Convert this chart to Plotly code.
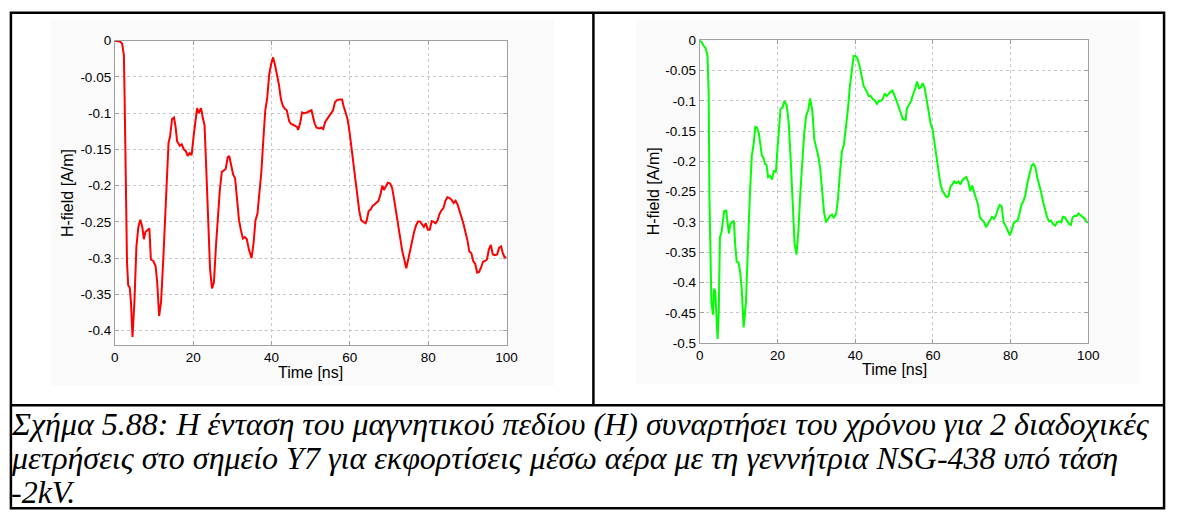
import plotly.graph_objects as go

# ---------------- data ----------------
t_red = [0, 1.3, 1.85, 2.3, 2.5, 2.8, 3.1, 3.4, 3.8, 4.1, 4.5, 5.0, 5.5, 6.0, 6.5, 7.0, 7.4, 7.8, 8.3, 8.8,
         9.2, 9.8, 10.4, 10.8, 11.3, 11.8, 12.4, 12.9, 13.3, 13.7, 14.1, 14.6, 15.1, 15.5, 15.9, 16.6, 17.1,
         17.6, 18.1, 18.6, 19.1, 19.6, 20.1, 20.6, 21.0, 21.4, 22.0, 22.4, 22.9, 23.3, 23.8, 24.3, 24.8,
         25.3, 25.8, 26.3, 26.8, 27.3, 27.8, 28.3, 28.8, 29.2, 29.7, 30.2, 30.7, 31.2, 31.7, 32.2, 32.7,
         33.2, 33.7, 34.2, 34.9, 35.4, 35.9, 36.4, 36.9, 37.4, 37.9, 38.4, 38.9, 39.4, 39.9, 40.4, 40.9,
         41.4, 41.9, 42.4, 42.9, 43.4, 43.9, 44.5, 45.0, 45.5, 46.0, 46.5, 46.8, 47.3, 47.8, 48.3, 49.0,
         49.7, 50.2, 50.5, 51.0, 51.5, 52.2, 52.7, 53.2, 53.7, 54.2, 54.7, 55.2, 55.7, 56.2, 56.7, 57.3,
         58.0, 58.4, 58.9, 59.4, 59.9, 60.4, 60.9, 61.4, 61.9, 62.4, 62.9, 63.5, 64.0, 64.3, 64.8, 65.3,
         65.8, 66.3, 66.8, 67.3, 67.8, 68.3, 68.7, 69.2, 69.7, 70.3, 70.8, 71.3, 71.8, 72.3, 72.9, 73.4,
         73.9, 74.4, 74.9, 75.4, 75.9, 76.4, 76.9, 77.4, 77.9, 78.4, 78.9, 79.4, 79.9, 80.4, 80.9, 81.4,
         81.9, 82.4, 82.9, 83.4, 83.9, 84.4, 84.9, 85.4, 85.9, 86.5, 87.0, 87.5, 88.0, 88.5, 89.0, 89.5,
         90.0, 90.5, 91.0, 91.5, 92.0, 92.5, 93.0, 93.5, 94.0, 94.5, 95.0, 95.5, 96.0, 96.5, 97.0, 97.6,
         98.1, 98.6, 99.1, 99.6, 100]
h_red = [0, -0.001, -0.004, -0.02, -0.083, -0.217, -0.306, -0.3375, -0.341, -0.36, -0.409, -0.36, -0.284,
         -0.257, -0.247, -0.257, -0.274, -0.264, -0.261, -0.259, -0.302, -0.304, -0.311, -0.333, -0.38,
         -0.36, -0.297, -0.23, -0.172, -0.141, -0.132, -0.108, -0.106, -0.119, -0.139, -0.145, -0.143,
         -0.15, -0.152, -0.159, -0.155, -0.158, -0.132, -0.11, -0.093, -0.1, -0.093, -0.105, -0.117,
         -0.172, -0.253, -0.315, -0.342, -0.333, -0.284, -0.244, -0.206, -0.181, -0.179, -0.177, -0.161,
         -0.159, -0.172, -0.185, -0.19, -0.217, -0.248, -0.262, -0.273, -0.271, -0.274, -0.288, -0.3,
         -0.28, -0.248, -0.239, -0.2125, -0.181, -0.137, -0.096, -0.079, -0.047, -0.032, -0.023, -0.034,
         -0.047, -0.061, -0.081, -0.09, -0.094, -0.096, -0.111, -0.115, -0.116, -0.117, -0.119, -0.123,
         -0.114, -0.099, -0.1, -0.099, -0.097, -0.096, -0.103, -0.114, -0.12, -0.121, -0.12, -0.122,
         -0.112, -0.108, -0.103, -0.099, -0.096, -0.085, -0.082, -0.0813, -0.0813, -0.09, -0.101, -0.108,
         -0.125, -0.148, -0.17, -0.19, -0.217, -0.235, -0.248, -0.25, -0.252, -0.248, -0.235, -0.233,
         -0.228, -0.226, -0.224, -0.221, -0.2125, -0.2, -0.206, -0.2, -0.196, -0.197, -0.2035, -0.219,
         -0.237, -0.257, -0.275, -0.291, -0.302, -0.314, -0.302, -0.288, -0.277, -0.264, -0.255, -0.2495,
         -0.2495, -0.254, -0.257, -0.252, -0.261, -0.261, -0.249, -0.25, -0.252, -0.248, -0.239, -0.234,
         -0.231, -0.221, -0.216, -0.217, -0.219, -0.224, -0.221, -0.226, -0.235, -0.241, -0.2525, -0.264,
         -0.275, -0.291, -0.293, -0.304, -0.308, -0.32, -0.319, -0.313, -0.305, -0.304, -0.302, -0.288,
         -0.282, -0.295, -0.296, -0.295, -0.286, -0.284, -0.294, -0.3, -0.298]

t_green = [0, 0.5, 1.0, 1.5, 2.0, 2.3, 2.5, 2.8, 3.0, 3.4, 3.7, 4.0, 4.2, 4.6, 4.9, 5.2, 5.6, 5.9, 6.3, 6.8,
           7.1, 7.5, 7.9, 8.5, 8.8, 9.1, 9.5, 10.0, 10.4, 10.8, 11.3, 11.9, 12.4, 12.9, 13.4, 13.9, 14.3,
           14.7, 15.2, 15.6, 16.0, 16.4, 16.8, 17.2, 17.6, 18.1, 18.6, 19.1, 19.6, 20.0, 20.4, 20.8, 21.3,
           21.8, 22.4, 22.9, 23.4, 23.9, 24.4, 24.9, 25.4, 25.9, 26.4, 26.9, 27.4, 27.9, 28.4, 28.96, 29.5,
           29.95, 30.5, 31.0, 31.5, 32.0, 32.5, 33.0, 33.5, 34.0, 34.5, 35.1, 35.6, 36.1, 36.6, 37.1, 37.6,
           38.1, 38.6, 39.1, 39.6, 40.1, 40.6, 41.2, 41.7, 42.2, 42.5, 43.0, 43.5, 44.0, 44.5, 45.0, 45.6,
           46.1, 46.6, 47.1, 47.6, 48.1, 48.6, 49.1, 49.6, 50.1, 50.6, 51.1, 51.7, 52.2, 52.7, 53.0, 53.3,
           53.9, 54.4, 54.9, 55.4, 55.9, 56.4, 56.9, 57.4, 57.9, 58.4, 58.9, 59.4, 59.95, 60.5, 61.0, 61.5,
           62.0, 62.5, 63.0, 63.5, 64.0, 64.5, 65.0, 65.5, 66.0, 66.6, 67.1, 67.6, 68.1, 68.6, 69.1, 69.6,
           70.1, 70.6, 71.1, 71.6, 72.1, 72.7, 73.2, 73.7, 74.2, 74.7, 75.2, 75.7, 76.2, 76.7, 77.2, 77.7,
           78.2, 78.7, 79.3, 79.8, 80.3, 80.8, 81.3, 81.8, 82.3, 82.8, 83.3, 83.8, 84.3, 84.8, 85.4, 85.9,
           86.4, 86.9, 87.4, 87.9, 88.4, 88.9, 89.4, 89.9, 90.4, 90.9, 91.5, 92.0, 92.5, 93.0, 93.5, 94.0,
           94.5, 95.0, 95.5, 96.0, 96.5, 97.0, 97.5, 98.1, 98.6, 99.1, 99.6, 100]
h_green = [0, -0.003, -0.009, -0.013, -0.025, -0.089, -0.26, -0.394, -0.432, -0.453, -0.41, -0.415, -0.448,
           -0.493, -0.448, -0.325, -0.317, -0.298, -0.282, -0.281, -0.303, -0.319, -0.303, -0.3005, -0.298,
           -0.335, -0.365, -0.367, -0.383, -0.41, -0.474, -0.432, -0.325, -0.255, -0.191, -0.17, -0.143,
           -0.144, -0.153, -0.175, -0.191, -0.1935, -0.204, -0.206, -0.226, -0.224, -0.23, -0.215, -0.218,
           -0.18, -0.143, -0.113, -0.111, -0.1, -0.108, -0.137, -0.196, -0.271, -0.335, -0.354, -0.314,
           -0.25, -0.191, -0.153, -0.124, -0.116, -0.096, -0.116, -0.164, -0.175, -0.191, -0.212, -0.25,
           -0.2845, -0.3005, -0.295, -0.29, -0.288, -0.2925, -0.287, -0.26, -0.218, -0.183, -0.172, -0.145,
           -0.116, -0.0786, -0.052, -0.026, -0.026, -0.03, -0.044, -0.06, -0.076, -0.0786, -0.085, -0.092,
           -0.092, -0.097, -0.099, -0.105, -0.1, -0.1, -0.097, -0.088, -0.092, -0.088, -0.085, -0.083,
           -0.09, -0.099, -0.108, -0.12, -0.1295, -0.131, -0.131, -0.113, -0.105, -0.1, -0.089, -0.081,
           -0.068, -0.079, -0.078, -0.0706, -0.079, -0.1, -0.119, -0.137, -0.148, -0.175, -0.196, -0.218,
           -0.239, -0.249, -0.254, -0.259, -0.258, -0.242, -0.238, -0.233, -0.236, -0.233, -0.238, -0.231,
           -0.228, -0.2257, -0.234, -0.249, -0.24, -0.25, -0.258, -0.271, -0.2925, -0.297, -0.3005, -0.3086,
           -0.302, -0.298, -0.2915, -0.295, -0.29, -0.279, -0.272, -0.274, -0.3005, -0.306, -0.314, -0.322,
           -0.313, -0.302, -0.299, -0.298, -0.286, -0.271, -0.266, -0.255, -0.236, -0.223, -0.207, -0.204,
           -0.21, -0.228, -0.239, -0.252, -0.268, -0.282, -0.2925, -0.299, -0.298, -0.303, -0.306, -0.3005,
           -0.299, -0.3005, -0.2915, -0.2925, -0.297, -0.303, -0.305, -0.2915, -0.29, -0.29, -0.286, -0.29,
           -0.2925, -0.295, -0.3005, -0.3005]

x_ticks = [0, 20, 40, 60, 80, 100]
x_ticktext = ["0", "20", "40", "60", "80", "100"]
y_ticks_left = [0, -0.05, -0.1, -0.15, -0.2, -0.25, -0.3, -0.35, -0.4]
y_ticktext_left = ["0", "-0.05", "-0.1", "-0.15", "-0.2", "-0.25", "-0.3", "-0.35", "-0.4"]
y_ticks_right = [0, -0.05, -0.1, -0.15, -0.2, -0.25, -0.3, -0.35, -0.4, -0.45, -0.5]
y_ticktext_right = ["0", "-0.05", "-0.1", "-0.15", "-0.2", "-0.25", "-0.3", "-0.35", "-0.4", "-0.45", "-0.5"]

x_title = "Time [ns]"
y_title = "H-field [A/m]"
caption_lines = [
    "Σχήμα 5.88: Η ένταση του μαγνητικού πεδίου (Η) συναρτήσει του χρόνου για 2 διαδοχικές",
    "μετρήσεις στο σημείο Υ7 για εκφορτίσεις μέσω αέρα με τη γεννήτρια NSG-438 υπό τάση",
    "-2kV.",
]

# ---------------- layout helpers ----------------
W, H = 1179, 523


def px(x):
    return x / W


def py(y):
    return 1 - y / H


fig = go.Figure()
fig.add_trace(go.Scatter(x=t_red, y=h_red, mode="lines", line=dict(color="#ff0000", width=2),
                         xaxis="x", yaxis="y", showlegend=False, hoverinfo="skip"))
fig.add_trace(go.Scatter(x=t_green, y=h_green, mode="lines", line=dict(color="#00ff00", width=2),
                         xaxis="x2", yaxis="y2", showlegend=False, hoverinfo="skip"))

axis_common = dict(showgrid=True, gridcolor="#c8c8c8", griddash="dot", gridwidth=1,
                   showline=True, linecolor="#a0a0a0", linewidth=1, mirror="ticks",
                   ticks="inside", ticklen=4, tickcolor="#a0a0a0", zeroline=False,
                   tickfont=dict(family="Liberation Sans", size=13.5, color="#000"),
                   fixedrange=True)

L_x0, L_x1, L_y0, L_y1 = 112.3, 509.0, 34.7, 348.0
R_x0, R_x1, R_y0, R_y1 = 704.7, 1098.3, 34.3, 346.0

fig.update_layout(
    autosize=True, margin=dict(l=0, r=0, t=0, b=0),
    paper_bgcolor="white", plot_bgcolor="white",
    xaxis=dict(domain=[px(L_x0), px(L_x1)], range=[0, 100], anchor="y",
               tickvals=x_ticks, ticktext=x_ticktext, **axis_common),
    yaxis=dict(domain=[py(L_y1), py(L_y0)], range=[-0.42, 0], anchor="x",
               tickvals=y_ticks_left, ticktext=y_ticktext_left, **axis_common),
    xaxis2=dict(domain=[px(R_x0), px(R_x1)], range=[0, 100], anchor="y2",
                tickvals=x_ticks, ticktext=x_ticktext, **axis_common),
    yaxis2=dict(domain=[py(R_y1), py(R_y0)], range=[-0.5, 0], anchor="x2",
                tickvals=y_ticks_right, ticktext=y_ticktext_right, **axis_common),
)

shapes = []
# faint figure backgrounds of the two MATLAB figures
for (a, b, c, d) in [(47, 14, 557, 390), (640, 14, 1150, 388)]:
    shapes.append(dict(type="rect", xref="paper", yref="paper", x0=px(a), x1=px(c), y0=py(d), y1=py(b),
                       fillcolor="#fafafa", line=dict(width=0), layer="below"))
for (a, b, c, d) in [(L_x0, L_y0, L_x1, L_y1), (R_x0, R_y0, R_x1, R_y1)]:
    shapes.append(dict(type="rect", xref="paper", yref="paper", x0=px(a), x1=px(c), y0=py(d), y1=py(b),
                       fillcolor="white", line=dict(width=0), layer="below"))
# table borders
bw = 2.5
shapes.append(dict(type="rect", xref="paper", yref="paper", x0=px(7), x1=px(1175), y0=py(516), y1=py(6),
                   line=dict(color="black", width=bw), fillcolor="rgba(0,0,0,0)"))
shapes.append(dict(type="line", xref="paper", yref="paper", x0=px(7), x1=px(1175), y0=py(410), y1=py(410),
                   line=dict(color="black", width=bw)))
shapes.append(dict(type="line", xref="paper", yref="paper", x0=px(597), x1=px(597), y0=py(410), y1=py(6),
                   line=dict(color="black", width=bw)))
fig.update_layout(shapes=shapes)

ann = []
lab_font = dict(family="Liberation Sans", size=16, color="#000")
for (cx, cy) in [((L_x0 + L_x1) / 2, 376), ((R_x0 + R_x1) / 2, 373)]:
    ann.append(dict(text=x_title, x=px(cx), y=py(cy), xref="paper", yref="paper", showarrow=False,
                    xanchor="center", yanchor="middle", font=lab_font))
for (cx, cy) in [(65, (L_y0 + L_y1) / 2), (658, (R_y0 + R_y1) / 2)]:
    ann.append(dict(text=y_title, x=px(cx), y=py(cy), xref="paper", yref="paper", showarrow=False,
                    xanchor="center", yanchor="middle", textangle=-90, font=lab_font))
cap_font = dict(family="Liberation Serif", size=32, color="#000")
for line, cy in zip(caption_lines, [429, 464, 499]):
    ann.append(dict(text="<i>" + line + "</i>", x=px(5), y=py(cy), xref="paper", yref="paper",
                    showarrow=False, xanchor="left", yanchor="middle", font=cap_font))
fig.update_layout(annotations=ann)

post = ("document.documentElement.style.margin='0';document.documentElement.style.padding='0';"
        "document.documentElement.style.overflow='hidden';"
        "document.body.style.margin='0';document.body.style.padding='0';document.body.style.overflow='hidden';"
        "var gd=document.getElementsByClassName('plotly-graph-div')[0];"
        "gd.style.position='fixed';gd.style.left='0';gd.style.top='0';"
        "gd.style.width='100vw';gd.style.height='100vh';Plotly.Plots.resize(gd);")
fig.write_html("out.html", default_width="100vw", default_height="100vh",
               config={"displayModeBar": False, "responsive": True}, post_script=post)
